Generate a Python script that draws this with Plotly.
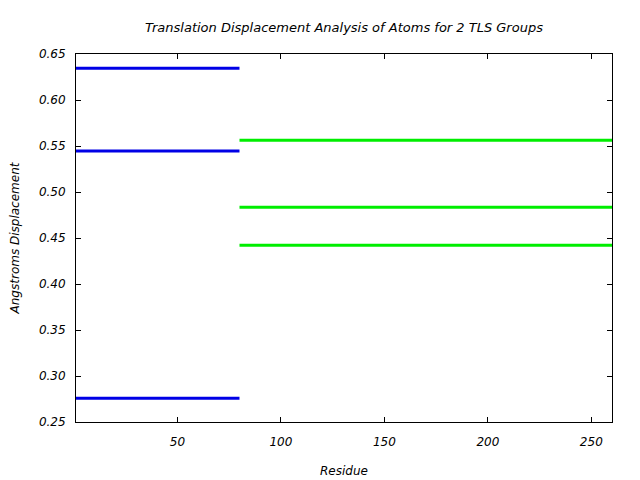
import plotly.graph_objects as go

group1_start, group1_end = 1, 80
group2_start, group2_end = 80, 260
group1_values = [0.6345, 0.5446, 0.2758]
group2_values = [0.5562, 0.4834, 0.4421]
x_ticks = [50, 100, 150, 200, 250]
y_ticks = [0.25, 0.30, 0.35, 0.40, 0.45, 0.50, 0.55, 0.60, 0.65]

fig = go.Figure()

def seg(values, x0, x1):
    xs, ys = [], []
    for v in values:
        xs += [x0, x1, None]
        ys += [v, v, None]
    return xs, ys

xs, ys = seg(group1_values, group1_start, group1_end)
fig.add_trace(go.Scatter(x=xs, y=ys, mode="lines", line=dict(color="#0000e6", width=3), showlegend=False))
xs, ys = seg(group2_values, group2_start, group2_end)
fig.add_trace(go.Scatter(x=xs, y=ys, mode="lines", line=dict(color="#00ee00", width=3), showlegend=False))

font = dict(family="DejaVu Sans", size=12, color="black")

fig.update_layout(
    width=640, height=480,
    margin=dict(l=76, r=28, t=54, b=58, autoexpand=False),
    paper_bgcolor="white", plot_bgcolor="white",
    font=font,
    title=dict(text="<i>Translation Displacement Analysis of Atoms for 2 TLS Groups</i>",
               x=0.5375, xanchor="center", y=0.943, yanchor="middle", font=dict(family="DejaVu Sans", size=13)),
    xaxis=dict(range=[1, 260], tickvals=x_ticks, ticktext=[f"<i>{v}</i>" for v in x_ticks],
               ticks="inside", ticklen=5, tickcolor="black", showline=True, linecolor="black",
               linewidth=1, mirror="ticks", showgrid=False, zeroline=False, ticklabelstandoff=9,
               automargin=False,
               title=dict(text="<i>Residue</i>", standoff=18, font=dict(size=12))),
    yaxis=dict(range=[0.25, 0.65], tickvals=y_ticks, ticktext=[f"<i>{v:.2f}</i>" for v in y_ticks],
               ticks="inside", ticklen=5, tickcolor="black", showline=True, linecolor="black",
               linewidth=1, mirror="ticks", showgrid=False, zeroline=False, ticklabelstandoff=7,
               automargin=False,
               title=dict(text="<i>Angstroms Displacement</i>", standoff=16, font=dict(size=12))),
)

fig.write_html("out.html")
